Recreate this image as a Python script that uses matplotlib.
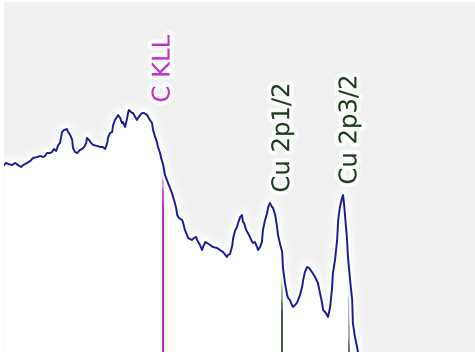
import numpy as np
import matplotlib
matplotlib.use("Agg")
import matplotlib.pyplot as plt
import matplotlib.patheffects as pe

# binding energy (eV) and intensity (kcounts)
energy = [1031.3, 1030.7, 1030.1, 1029.0, 1028.1, 1027.3, 1026.4, 1025.8, 1024.7, 1023.8,
          1023.0, 1021.8, 1021.0, 1020.1, 1019.6, 1019.0, 1018.1, 1017.6, 1017.0, 1016.4,
          1015.8, 1015.3, 1014.7, 1014.1, 1013.3, 1013.0, 1012.4, 1011.8, 1011.6, 1011.0,
          1010.4, 1009.6, 1009.0, 1008.4, 1007.8, 1007.6, 1007.0, 1006.4, 1005.8, 1004.7,
          1003.8, 1003.0, 1002.4, 1001.8, 1001.6, 1001.0, 1000.4, 1000.1, 999.6, 999.0,
          998.7, 998.1, 997.6, 997.3, 996.7, 996.1, 995.8, 995.6, 994.7, 994.4,
          993.8, 993.3, 993.0, 992.4, 991.8, 991.3, 990.4, 990.1, 989.6, 989.0,
          988.7, 988.1, 987.6, 987.3, 986.7, 986.4, 985.8, 985.3, 984.4, 983.3,
          982.7, 982.1, 981.8, 981.3, 980.4, 980.1, 979.6, 979.0, 978.7, 977.6,
          977.0, 976.4, 976.1, 975.3, 974.7, 974.4, 973.8, 973.3, 972.4, 971.6,
          970.4, 969.6, 968.7, 967.6, 967.3, 966.7, 966.1, 965.8, 965.3, 964.7,
          964.4, 963.8, 963.3, 963.0, 962.7, 962.1, 961.6, 961.0, 960.4, 960.1,
          959.6, 959.0, 958.7, 958.1, 957.6, 957.3, 956.7, 956.1, 955.8, 955.3,
          954.7, 954.4, 953.8, 953.3, 953.0, 952.4, 951.8, 951.6, 951.0, 950.4,
          950.1, 949.6, 949.0, 948.7, 947.6, 946.7, 946.1, 945.8, 945.3, 944.7,
          944.1, 943.3, 942.4, 941.6, 941.0, 940.4, 940.1, 939.3, 938.7, 938.1,
          937.6, 937.3, 936.7, 936.1, 935.8, 935.3, 934.7, 934.4, 934.1, 933.8,
          933.3, 933.0, 932.4, 931.8, 931.6, 931.0, 930.4, 930.1]
intensity = [18.7, 18.9, 18.8, 18.7, 18.9, 18.7, 18.5, 18.7, 18.9, 19.1,
             19.4, 19.5, 19.6, 19.5, 19.6, 19.9, 19.9, 20.0, 20.3, 20.1,
             20.7, 20.9, 22.0, 22.2, 22.3, 22.0, 21.7, 21.2, 20.4, 20.0,
             19.9, 20.2, 20.3, 20.5, 20.9, 21.4, 21.2, 20.9, 20.7, 20.6,
             20.5, 20.5, 20.3, 20.9, 21.4, 21.9, 22.0, 22.7, 23.2, 23.5,
             23.7, 23.4, 22.9, 23.0, 22.5, 23.4, 24.0, 24.2, 23.9, 23.9,
             23.5, 23.2, 23.4, 23.7, 23.9, 23.9, 23.7, 23.5, 23.2, 22.9,
             22.2, 21.5, 21.0, 20.5, 19.9, 19.4, 18.7, 17.7, 16.9, 15.9,
             15.2, 14.4, 13.7, 13.4, 13.2, 12.9, 12.2, 11.7, 11.4, 11.2,
             11.4, 11.5, 11.2, 10.7, 10.2, 10.5, 11.0, 10.9, 10.7, 10.5,
             10.4, 10.2, 10.0, 9.5, 9.7, 9.8, 10.6, 11.4, 12.1, 12.5,
             12.9, 13.5, 13.7, 13.0, 12.9, 12.2, 11.9, 11.5, 11.0, 10.9,
             11.0, 10.5, 10.2, 10.5, 11.0, 12.2, 13.2, 13.9, 14.5, 14.9,
             14.5, 14.4, 13.7, 12.6, 11.7, 10.8, 10.0, 8.5, 6.9, 5.7,
             5.4, 5.2, 4.7, 4.5, 4.9, 5.7, 6.5, 7.2, 8.0, 8.5,
             8.4, 8.0, 7.5, 6.9, 5.9, 4.9, 4.2, 3.9, 3.5, 4.5,
             6.2, 7.9, 9.2, 11.2, 13.2, 14.5, 15.4, 15.7, 14.7, 13.5,
             11.4, 9.5, 7.2, 5.2, 2.9, 1.5, 0.5, -0.1]

# peak markers
peak_names = ["C KLL", "Cu 2p1/2", "Cu 2p3/2"]
peak_energy = [986.0, 951.8, 932.6]
peak_colors = ["#b000c0", "#1e3c1e", "#1e3c1e"]
label_colors = ["#c030c8", "#1e3c1e", "#1e3c1e"]

energy = np.array(energy)
intensity = np.array(intensity)

fig = plt.figure(figsize=(4.75, 3.52), dpi=100, facecolor="white")
ax = fig.add_axes([4 / 475, 0, 471 / 475, 350 / 352])
ax.set_facecolor("#f0f0f0")

glow = [pe.Stroke(linewidth=16, foreground="white", alpha=0.2),
        pe.Stroke(linewidth=10, foreground="white", alpha=0.4),
        pe.Stroke(linewidth=5, foreground="white", alpha=0.9),
        pe.Normal()]

ax.fill_between(energy, intensity, -5, color="white", lw=0, zorder=1)

for name, e, c, tc in zip(peak_names, peak_energy, peak_colors, label_colors):
    top = np.interp(e, energy[::-1], intensity[::-1])
    ax.vlines(e, -5, top, color=c, lw=1.2, zorder=2)
    near = (energy > e - 6) & (energy < e + 6)
    ymax = intensity[near].max()
    ax.annotate(name, xy=(e, ymax), xytext=(0, 7.5), textcoords="offset points",
                rotation=90, ha="center", va="bottom", color=tc,
                fontsize=17.5, family="DejaVu Sans", zorder=4,
                path_effects=[pe.withStroke(linewidth=6, foreground="white", alpha=0.8)])

ax.plot(energy, intensity, color="#1c1c96", lw=1.4, zorder=3, path_effects=glow)

ax.set_xlim(1031.3, 896.7)
ax.set_ylim(0, 35.0)
ax.set_xticks([])
ax.set_yticks([])
for s in ax.spines.values():
    s.set_visible(False)

fig.savefig("out.png", dpi=100, facecolor="white")
